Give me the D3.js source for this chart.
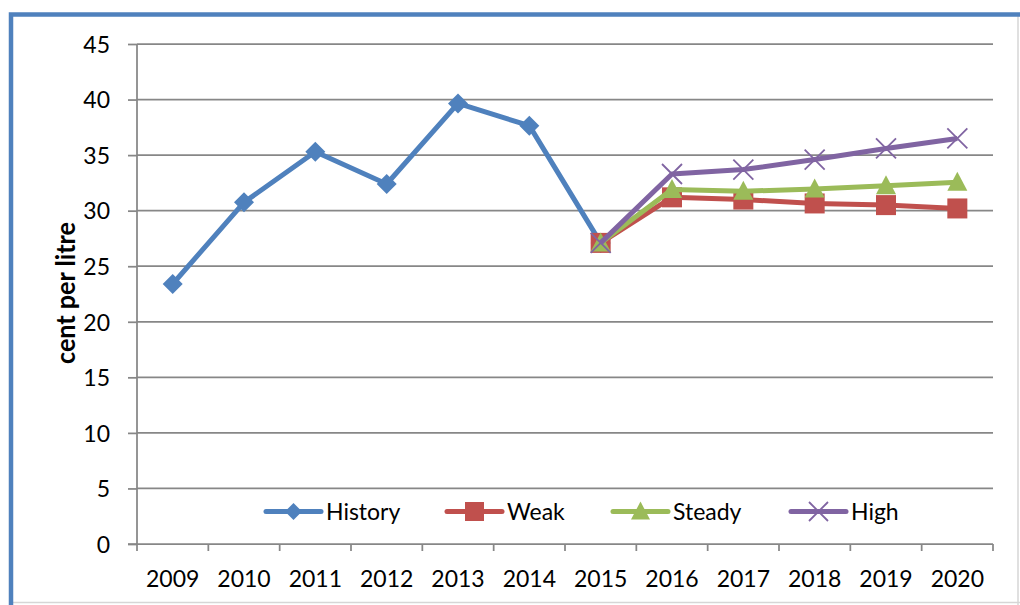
<!DOCTYPE html>
<html lang="en">
<head>
<meta charset="UTF-8">
<title>cent per litre</title>
<script src="https://d3js.org/d3.v7.min.js"></script>
<style>
  body { margin: 0; overflow: hidden; background: #fff; }
  text { font-family: Lato, 'Open Sans', sans-serif; fill: #000; }
</style>
</head>
<body>
<div id="chart"></div>
<script>
  // data
  const years = ["2009", "2010", "2011", "2012", "2013", "2014", "2015", "2016", "2017", "2018", "2019", "2020"];
  const yTicks = [0, 5, 10, 15, 20, 25, 30, 35, 40, 45];
  const history = [23.4, 30.75, 35.3, 32.4, 39.65, 37.65, 27.1, null, null, null, null, null];
  const weak    = [null, null, null, null, null, null, 27.1, 31.2, 31.0, 30.65, 30.5, 30.2];
  const steady  = [null, null, null, null, null, null, 27.1, 31.9, 31.75, 31.95, 32.25, 32.55];
  const high    = [null, null, null, null, null, null, 27.1, 33.3, 33.7, 34.6, 35.6, 36.5];

  const series = [
    { name: "History", values: history, color: "#4F81BD", marker: "diamond" },
    { name: "Weak",    values: weak,    color: "#C0504D", marker: "square" },
    { name: "Steady",  values: steady,  color: "#9BBB59", marker: "triangle" },
    { name: "High",    values: high,    color: "#8064A2", marker: "cross" }
  ];

  const width = 1020, height = 605;
  const plotLeft = 137, plotRight = 993, plotTop = 44, plotBottom = 544;

  const svg = d3.select("#chart").append("svg")
      .attr("width", width)
      .attr("height", height);

  // outer frame (cropped box)
  svg.append("line").attr("x1", 1018).attr("x2", 1018).attr("y1", 16).attr("y2", height)
      .attr("stroke", "#d6d6d6").attr("stroke-width", 1.5);
  svg.append("line").attr("x1", 12).attr("x2", width).attr("y1", 602.5).attr("y2", 602.5)
      .attr("stroke", "#d6d6d6").attr("stroke-width", 1.5);
  svg.append("path")
      .attr("d", `M11,${height}V14.5H${width}`)
      .attr("fill", "none")
      .attr("stroke", "#4F81BD")
      .attr("stroke-width", 4.5);

  const x = d3.scaleBand().domain(years).range([plotLeft, plotRight]).padding(0);
  const y = d3.scaleLinear().domain([0, 45]).range([plotBottom, plotTop]);
  const cx = d => x(d) + x.bandwidth() / 2;

  // gridlines
  svg.append("g")
    .selectAll("line")
    .data(yTicks.filter(t => t > 0))
    .enter().append("line")
      .attr("x1", plotLeft).attr("x2", plotRight)
      .attr("y1", d => y(d)).attr("y2", d => y(d))
      .attr("stroke", "#878787")
      .attr("stroke-width", 1.75);

  // y axis
  const yAxis = svg.append("g")
      .attr("transform", `translate(${plotLeft},0)`)
      .call(d3.axisLeft(y).tickValues(yTicks).tickSize(9).tickPadding(18));
  yAxis.select(".domain").attr("stroke", "#878787").attr("stroke-width", 1.75)
      .attr("d", `M-9,${plotBottom}H0V${plotTop}`);
  yAxis.selectAll(".tick line").attr("stroke", "#878787").attr("stroke-width", 1.75);
  yAxis.selectAll("text").style("font-size", "23px").attr("dy", "0.36em")
      .style("font-family", "Lato, sans-serif");
  svg.append("line").attr("x1", plotLeft).attr("x2", plotLeft).attr("y1", plotBottom).attr("y2", plotBottom + 7)
      .attr("stroke", "#878787").attr("stroke-width", 1.75);

  // x axis: ticks between categories
  const xAxis = svg.append("g").attr("transform", `translate(0,${plotBottom})`);
  xAxis.append("line").attr("x1", plotLeft).attr("x2", plotRight)
      .attr("stroke", "#878787").attr("stroke-width", 1.75);
  xAxis.selectAll(".xt")
    .data(years)
    .enter().append("line")
      .attr("class", "xt")
      .attr("x1", d => x(d) + x.bandwidth()).attr("x2", d => x(d) + x.bandwidth())
      .attr("y1", 0).attr("y2", 7)
      .attr("stroke", "#878787").attr("stroke-width", 1.75);
  xAxis.selectAll(".xl")
    .data(years)
    .enter().append("text")
      .attr("class", "xl")
      .attr("x", d => cx(d))
      .attr("y", 43)
      .attr("text-anchor", "middle")
      .style("font-size", "23px")
      .text(d => d);

  // axis title
  svg.append("text")
      .attr("transform", `translate(75,${(plotTop + plotBottom) / 2 - 1}) rotate(-90)`)
      .attr("text-anchor", "middle")
      .attr("textLength", 142)
      .attr("lengthAdjust", "spacingAndGlyphs")
      .style("font-size", "27px")
      .style("font-weight", "bold")
      .text("cent per litre");

  function drawMarker(g, type, color, size) {
    const h = size / 2;
    if (type === "diamond") {
      g.append("path").attr("d", `M0,${-h}L${h},0L0,${h}L${-h},0Z`).attr("fill", color);
    } else if (type === "square") {
      g.append("rect").attr("x", -h).attr("y", -h).attr("width", size).attr("height", size).attr("fill", color);
    } else if (type === "triangle") {
      g.append("path").attr("d", `M0,${-h * 1.05}L${h},${h * 0.85}L${-h},${h * 0.85}Z`).attr("fill", color);
    } else {
      g.append("path").attr("d", `M${-h},${-h}L${h},${h}M${-h},${h}L${h},${-h}`)
        .attr("stroke", color).attr("stroke-width", 1.8).attr("fill", "none");
    }
  }

  const line = d3.line()
      .defined(d => d.v != null)
      .x(d => cx(d.year))
      .y(d => y(d.v));

  series.forEach(s => {
    const pts = years.map((yr, i) => ({ year: yr, v: s.values[i] }));
    const g = svg.append("g");
    g.append("path")
        .datum(pts)
        .attr("d", line)
        .attr("fill", "none")
        .attr("stroke", s.color)
        .attr("stroke-width", 5)
        .attr("stroke-linejoin", "round");
    pts.filter(p => p.v != null).forEach(p => {
      const m = g.append("g").attr("transform", `translate(${cx(p.year)},${y(p.v)})`);
      drawMarker(m, s.marker, s.color, 20);
    });
  });

  // legend
  const legendX = [266, 447, 613, 791];
  const legend = svg.append("g").attr("transform", "translate(0,511.5)");
  series.forEach((s, i) => {
    const g = legend.append("g").attr("transform", `translate(${legendX[i]},0)`);
    g.append("line").attr("x1", 0).attr("x2", 55)
        .attr("stroke", s.color).attr("stroke-width", 5).attr("stroke-linecap", "round");
    const m = g.append("g").attr("transform", "translate(27.5,0)");
    drawMarker(m, s.marker, s.color, s.marker === "diamond" ? 17 : 19);
    g.append("text").attr("x", 60).attr("dy", "0.35em")
        .style("font-size", "23px")
        .text(s.name);
  });
</script>
</body>
</html>
